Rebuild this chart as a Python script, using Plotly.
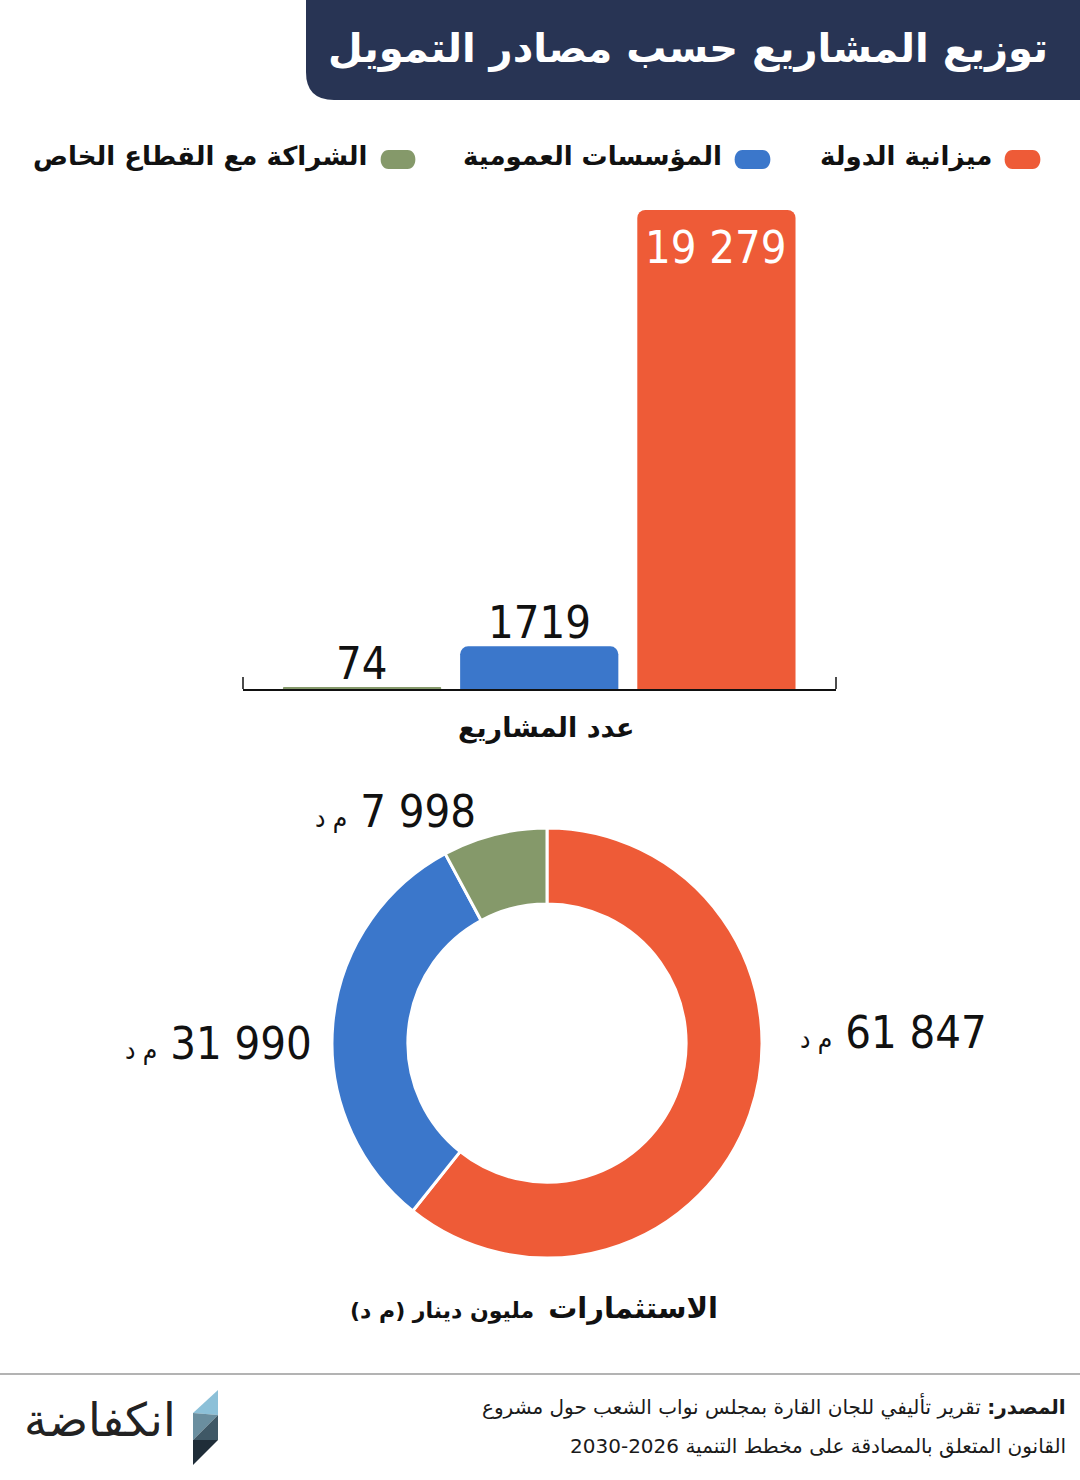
import plotly.graph_objects as go

W, H = 1080, 1480

# ---------------- data ----------------
sources = ["ميزانية الدولة", "المؤسسات العمومية", "الشراكة مع القطاع الخاص"]
colors = ["#EE5B37", "#3B77CB", "#85996A"]
projects = [19279, 1719, 74]           # عدد المشاريع
investments = [61847, 31990, 7998]     # الاستثمارات (مليون دينار)
unit = "م د"

title_text = "توزيع المشاريع حسب مصادر التمويل"
bar_axis_title = "عدد المشاريع"
pie_title_main = "الاستثمارات"
pie_title_sub = "مليون دينار (م د)"
source_label = "المصدر:"
source_line1 = "تقرير تأليفي للجان القارة بمجلس نواب الشعب حول مشروع"
source_line2 = "القانون المتعلق بالمصادقة على مخطط التنمية 2026-2030"
logo_text = "انكفاضة"

NUMFONT = "DejaVu Sans Condensed, DejaVu Sans, sans-serif"
ARFONT = "DejaVu Sans, sans-serif"
RLM = "\u200f"
LRM = "\u200e"
COND = "<span style='font-stretch:condensed'>{}</span>"
NUMSIZE = 45


def px(x):
    return x / W


def py(y):
    return 1 - y / H


def fmt(v, group=True):
    if group:
        return f"{v:,}".replace(",", "\u00a0")
    return str(v)


fig = go.Figure()

# ---------------- bar chart (left to right: reversed order) ----------------
bar_idx = list(range(len(sources)))
bar_x = [len(sources) - 1 - i for i in bar_idx]
fig.add_trace(go.Bar(
    x=bar_x,
    y=projects,
    marker=dict(color=colors, line=dict(width=0), cornerradius=8),
    width=0.893,
    hoverinfo="skip",
    showlegend=False,
    xaxis="x", yaxis="y",
))

# ---------------- donut ----------------
fig.add_trace(go.Pie(
    labels=sources,
    values=investments,
    marker=dict(colors=colors, line=dict(color="white", width=3)),
    hole=0.647,
    sort=False,
    direction="clockwise",
    rotation=0,
    textinfo="none",
    hoverinfo="skip",
    showlegend=False,
    domain=dict(x=[px(332), px(762)], y=[py(1258), py(828)]),
))

shapes = []
annotations = []

# title bar
shapes.append(dict(
    type="path", xref="paper", yref="paper",
    path=(f"M {px(306)},{py(0)} L {px(1080)},{py(0)} L {px(1080)},{py(100)} "
          f"L {px(334)},{py(100)} Q {px(306)},{py(100)} {px(306)},{py(72)} Z"),
    fillcolor="#283454", line=dict(width=0), layer="below",
))
annotations.append(dict(
    text=f"<b>{title_text}</b>", x=px(1050), y=py(48), xref="paper", yref="paper",
    xanchor="right", yanchor="middle", showarrow=False,
    font=dict(family=ARFONT, size=40, color="white"),
))

# legend (custom, right-to-left)
legend_pills = [(1003, 1042), (733, 772), (379, 417)]
for i, (x0, x1) in enumerate(legend_pills):
    y0, y1 = 150, 169
    r = (y1 - y0) / 2
    path = (f"M {px(x0 + r)},{py(y0)} L {px(x1 - r)},{py(y0)} "
            f"C {px(x1 + 1)},{py(y0)} {px(x1 + 1)},{py(y1)} {px(x1 - r)},{py(y1)} "
            f"L {px(x0 + r)},{py(y1)} "
            f"C {px(x0 - 1)},{py(y1)} {px(x0 - 1)},{py(y0)} {px(x0 + r)},{py(y0)} Z")
    shapes.append(dict(type="path", xref="paper", yref="paper", path=path,
                       fillcolor=colors[i], line=dict(width=0)))
    annotations.append(dict(
        text=f"<b>{sources[i]}</b>", x=px(x0 - 9), y=py(157), xref="paper", yref="paper",
        xanchor="right", yanchor="middle", showarrow=False,
        font=dict(family=ARFONT, size=26, color="#111111"),
    ))

# bar value labels (positioned through data axes)
for i in bar_idx:
    if i == 0:
        annotations.append(dict(
            text=COND.format(fmt(projects[i])), x=bar_x[i], y=projects[i],
            xref="x", yref="y",
            xanchor="center", yanchor="top", yshift=-9, showarrow=False,
            font=dict(family=NUMFONT, size=NUMSIZE, color="white"),
        ))
    else:
        annotations.append(dict(
            text=COND.format(fmt(projects[i], group=False)), x=bar_x[i], y=projects[i],
            xref="x", yref="y",
            xanchor="center", yanchor="bottom", yshift=-5, showarrow=False,
            font=dict(family=NUMFONT, size=NUMSIZE, color="#111111"),
        ))

# axis end ticks
for xd in (0, 1):
    shapes.append(dict(type="line", xref="x domain", yref="y domain",
                       x0=xd, x1=xd, y0=0, y1=0.025,
                       line=dict(color="#111111", width=1.5)))

annotations.append(dict(
    text=f"<b>{bar_axis_title}</b>", x=px(546), y=py(728), xref="paper", yref="paper",
    xanchor="center", yanchor="middle", showarrow=False,
    font=dict(family=ARFONT, size=27, color="#111111"),
))

# donut labels
pie_label_pos = [
    (px(798), py(1032), "left"),
    (px(314), py(1043), "right"),
    (px(478), py(812), "right"),
]
for i, (lx, ly, anchor) in enumerate(pie_label_pos):
    txt = (f"<span style='font-size:26px'>{unit}</span>"
           f"{LRM} " + COND.format(fmt(investments[i])))
    annotations.append(dict(
        text=txt, x=lx, y=ly, xref="paper", yref="paper",
        xanchor=anchor, yanchor="middle", showarrow=False,
        font=dict(family=NUMFONT, size=NUMSIZE, color="#111111"),
    ))

annotations.append(dict(
    text=(f"{RLM}<b><span style='font-size:29px'>{pie_title_main}</span></b>  "
          f"<b>{pie_title_sub}</b>{RLM}"),
    x=px(534), y=py(1308), xref="paper", yref="paper",
    xanchor="center", yanchor="middle", showarrow=False,
    font=dict(family=ARFONT, size=22, color="#111111"),
))

# separator
shapes.append(dict(type="line", xref="paper", yref="paper",
                   x0=0, x1=1, y0=py(1374), y1=py(1374),
                   line=dict(color="#9a9a9a", width=1.5)))

# source
annotations.append(dict(
    text=f"{RLM}<b>{source_label}</b> {source_line1}{RLM}",
    x=px(1068), y=py(1406), xref="paper", yref="paper",
    xanchor="right", yanchor="middle", showarrow=False,
    font=dict(family=ARFONT, size=20, color="#1a1a1a"),
))
annotations.append(dict(
    text=f"{RLM}{source_line2}{RLM}",
    x=px(1068), y=py(1446), xref="paper", yref="paper",
    xanchor="right", yanchor="middle", showarrow=False,
    font=dict(family=ARFONT, size=20, color="#1a1a1a"),
))

# logo
annotations.append(dict(
    text=logo_text, x=px(22), y=py(1420), xref="paper", yref="paper",
    xanchor="left", yanchor="middle", showarrow=False,
    font=dict(family=ARFONT, size=46, color="#222222", weight=300),
))
logo_facets = [
    ([(218, 1390), (218, 1415), (193, 1413)], "#8CC0D8"),
    ([(193, 1413), (218, 1415), (193, 1440)], "#6A8E9F"),
    ([(218, 1415), (218, 1440), (193, 1440)], "#3F5866"),
    ([(193, 1440), (218, 1440), (193, 1465)], "#1F2D38"),
]
for pts, c in logo_facets:
    path = "M " + " L ".join(f"{px(a)},{py(b)}" for a, b in pts) + " Z"
    shapes.append(dict(type="path", xref="paper", yref="paper", path=path,
                       fillcolor=c, line=dict(width=0)))

fig.update_layout(
    width=W, height=H,
    margin=dict(l=0, r=0, t=0, b=0),
    paper_bgcolor="white", plot_bgcolor="white",
    xaxis=dict(domain=[px(243), px(836)], range=[-0.672, 2.675],
               showticklabels=False, showgrid=False, zeroline=False,
               showline=True, linecolor="#111111", linewidth=1.5, ticks="",
               fixedrange=True),
    yaxis=dict(domain=[py(689), py(210)], range=[0, projects[0]],
               showticklabels=False, showgrid=False, zeroline=False,
               showline=False, fixedrange=True),
    shapes=shapes,
    annotations=annotations,
    showlegend=False,
)

fig.write_html("out.html", config={"displayModeBar": False},
               post_script="document.body.style.margin='0';")
